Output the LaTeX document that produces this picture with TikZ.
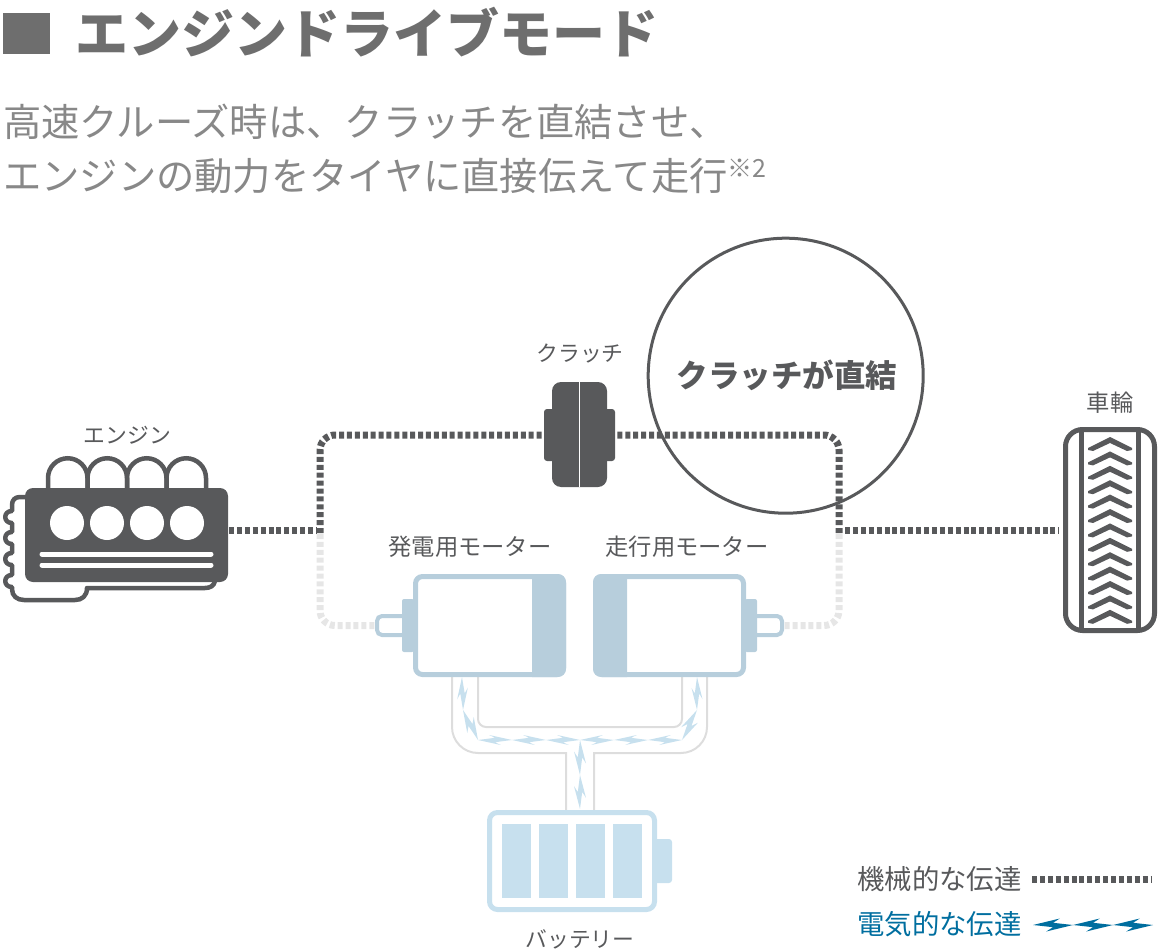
\documentclass[tikz,border=0pt]{standalone}
\usepackage{fontspec}
\usetikzlibrary{calc}
\setmainfont{Noto Sans CJK JP}

\definecolor{darkgray}{HTML}{58595B}
\definecolor{headgray}{HTML}{6E6E6E}
\definecolor{subgray}{HTML}{888888}
\definecolor{lightgray}{HTML}{E6E6E6}
\definecolor{wiregray}{HTML}{DDDDDD}
\definecolor{motorblue}{HTML}{B7CEDC}
\definecolor{batblue}{HTML}{C7E0EE}
\definecolor{legendblue}{HTML}{006E9F}

\tikzset{
	label text/.style={inner sep=0pt, text=darkgray, font=\fontsize{23.3}{23.3}\selectfont},
	kana text/.style={inner sep=0pt, text=darkgray, font=\fontsize{21.8}{21.8}\selectfont},
	legend text/.style={inner sep=0pt, anchor=west, font=\fontsize{27.4}{27.4}\selectfont},
	sub text/.style={inner sep=0pt, anchor=west, text=subgray, font=\fontsize{38.3}{38.3}\selectfont},
	mech dark/.style={draw=darkgray, line width=7pt, dash pattern=on 5pt off 2.9pt},
	mech light/.style={draw=lightgray, line width=7pt, dash pattern=on 5pt off 2.9pt},
	wire/.style={draw=wiregray, line width=2pt},
	engine line/.style={draw=darkgray, line width=4.5pt},
	motor box/.style={draw=motorblue, line width=5pt, rounded corners=7pt, inner sep=0pt, minimum width=148pt, minimum height=98pt},
	bat box/.style={draw=batblue, line width=5pt, rounded corners=8pt, inner sep=0pt, minimum width=165pt, minimum height=97pt},
	shaft box/.style={draw=motorblue, line width=4pt, rounded corners=5pt, fill=white, inner sep=0pt, minimum width=30pt, minimum height=19pt},
	solid box/.style={fill=darkgray, rounded corners=3pt, inner sep=0pt},
}

% thin lightning from #2 to #3, #4 gives the side of the first spike, #5 the spike size
\newcommand{\boltlink}[5]{
	\fill [#1] (#2) -- ($(#2)!.5!(#3)!2.2pt!#4:(#3)$) -- ($(#2)!.33!(#3)!#5!#4:(#3)$) -- (#3)
		-- ($(#2)!.5!(#3)!2.2pt!-#4:(#3)$) -- ($(#2)!.67!(#3)!#5!-#4:(#3)$) -- cycle;
}

\begin{document}
\begin{tikzpicture}[x=1pt, y=-1pt]
	\useasboundingbox (0, 0) rectangle (1160, 952);

	% heading
	\fill [headgray] (3, 13) rectangle (50, 54);
	\node [inner sep=0pt, anchor=west, text=headgray, font=\fontsize{53}{53}\selectfont\bfseries] (title) at (75, 32) {エンジンドライブモード};
	\node [sub text] (subone) at (3, 122) {高速クルーズ時は、クラッチを直結させ、};
	\node [sub text] (subtwo) at (3, 176) {エンジンの動力をタイヤに直接伝えて走行};
	\node [inner sep=0pt, anchor=west, text=subgray, font=\fontsize{25}{25}\selectfont] (note) at (727, 168) {※2};

	% wires
	\coordinate (wireA) at (452, 677);
	\coordinate (wireB) at (707, 677);
	\coordinate (wireC) at (478, 677);
	\coordinate (wireD) at (682, 677);
	\coordinate (wireE) at (566, 811);
	\coordinate (wireF) at (594, 811);
	\draw [wire, rounded corners=26pt] (wireA) -- (452, 753) [sharp corners] -- (566, 753) -- (wireE);
	\draw [wire, rounded corners=26pt] (wireB) -- (707, 753) [sharp corners] -- (594, 753) -- (wireF);
	\draw [wire, rounded corners=8pt] (wireC) -- (478, 727) -- (682, 727) -- (wireD);

	% motors
	\fill [motorblue] (532, 574) [rounded corners=8pt] -- (566, 574) -- (566, 677) [sharp corners] -- (532, 677) -- cycle;
	\fill [motorblue] (627, 574) [rounded corners=8pt] -- (593, 574) -- (593, 677) [sharp corners] -- (627, 677) -- cycle;
	\node [motor box] (genmotor) at (489.5, 625.5) {};
	\node [motor box] (drivemotor) at (669.5, 625.5) {};
	\node [shaft box] (genshaft) at (392, 625.5) {};
	\node [shaft box] (driveshaft) at (767, 625.5) {};
	\fill [motorblue, rounded corners=2pt] (402, 599) rectangle (414, 652);
	\fill [motorblue, rounded corners=2pt] (745, 599) rectangle (757, 652);

	% battery
	\fill [batblue, rounded corners=3pt] (650, 839) rectangle (672, 883);
	\node [bat box, fill=white] (battery) at (572, 861) {};
	\foreach \x in {502, 539, 576, 613} {
		\fill [batblue] (\x, 824) rectangle (\x + 29, 898);
	}

	% electric path
	\coordinate (boltA) at (462, 677);
	\coordinate (boltB) at (463, 710);
	\coordinate (boltC) at (478, 740);
	\coordinate (boltD) at (512, 740);
	\coordinate (boltE) at (546, 740);
	\coordinate (boltF) at (580, 740);
	\coordinate (boltG) at (614, 740);
	\coordinate (boltH) at (648, 740);
	\coordinate (boltI) at (682, 740);
	\coordinate (boltJ) at (697, 710);
	\coordinate (boltK) at (697, 677);
	\coordinate (boltL) at (580, 775);
	\coordinate (boltM) at (580, 809);
	\boltlink{batblue}{boltA}{boltB}{90}{5.5pt}
	\boltlink{batblue}{boltB}{boltC}{90}{6.5pt}
	\boltlink{batblue}{boltC}{boltD}{90}{5pt}
	\boltlink{batblue}{boltD}{boltE}{90}{5pt}
	\boltlink{batblue}{boltE}{boltF}{90}{5pt}
	\boltlink{batblue}{boltF}{boltG}{-90}{5pt}
	\boltlink{batblue}{boltG}{boltH}{-90}{5pt}
	\boltlink{batblue}{boltH}{boltI}{-90}{5pt}
	\boltlink{batblue}{boltJ}{boltI}{90}{6.5pt}
	\boltlink{batblue}{boltK}{boltJ}{-90}{5.5pt}
	\boltlink{batblue}{boltF}{boltL}{-90}{6pt}
	\boltlink{batblue}{boltL}{boltM}{-90}{6pt}

	% engine
	\draw [engine line, line join=round] (26, 497) -- (20, 497) .. controls (15, 497) and (12, 500) .. (12, 505)
		\foreach \y in {517, 538, 559, 581} {
			-- (12, \y - 6) .. controls (3, \y - 6) and (3, \y + 6) .. (12, \y + 6)
		}
		-- (12, 589) .. controls (12, 596) and (17, 600) .. (24, 600) -- (75, 600)
		.. controls (82, 600) and (87, 596) .. (87, 588) -- (205, 588) .. controls (210, 588) and (214, 586) .. (215, 581);
	\foreach \x in {48, 87.5, 127, 166.5} {
		\draw [engine line] (\x, 490) -- (\x, 478) arc [start angle=180, end angle=0, radius=19.75pt] -- (\x + 39.5, 490);
	}
	\node [fill=darkgray, rounded corners=8pt, inner sep=0pt, minimum width=203pt, minimum height=94pt] (engine) at (126.5, 535) {};
	\foreach \x in {67, 107, 147, 187} {
		\fill [white] (\x, 523) circle (17pt);
	}
	\draw [white, line width=5pt, line cap=round] (42, 554) -- (211, 554);
	\draw [white, line width=5pt, line cap=round] (42, 565) -- (211, 565);

	% wheel
	\node [draw=darkgray, line width=5pt, rounded corners=17pt, inner sep=0pt, minimum width=89pt, minimum height=201pt] (wheel) at (1110, 530) {};
	\draw [darkgray, line width=5pt] (1081, 429) -- (1081, 631);
	\draw [darkgray, line width=5pt] (1138, 429) -- (1138, 631);
	\foreach \y in {0, ..., 12} {
		\fill [darkgray] (1110, 437 + \y * 14.4) -- (1132, 448 + \y * 14.4) -- (1132, 450 + \y * 14.4) -- (1127, 451 + \y * 14.4) -- (1110, 443 + \y * 14.4)
			-- (1093, 451 + \y * 14.4) -- (1088, 450 + \y * 14.4) -- (1088, 448 + \y * 14.4) -- cycle;
	}

	% clutch
	\node [solid box, minimum width=71pt, minimum height=52pt] (clutch) at (579.5, 435) {};
	\node [solid box, rounded corners=9pt, minimum width=55pt, minimum height=105pt] (clutchcore) at (579.5, 434.5) {};
	\draw [white, line width=1pt] (clutchcore.north) -- (clutchcore.south);

	% mechanical path
	\coordinate (leftjoin) at (320, 530);
	\coordinate (rightjoin) at (839, 530);
	\coordinate (enginegap) at (229, 530);
	\coordinate (leftstop) at (316, 530);
	\coordinate (rightstart) at (845, 530);
	\coordinate (wheelgap) at (1059, 530);
	\draw [mech light, rounded corners=15pt] (leftjoin) ++(0, 4) -- (leftjoin |- genshaft.west) -- (genshaft.west);
	\draw [mech light, rounded corners=15pt] (rightjoin) ++(0, 4) -- (rightjoin |- driveshaft.east) -- (driveshaft.east);
	\draw [mech dark, rounded corners=15pt] (leftjoin) ++(0, 3) -- (leftjoin |- clutch.west) -- (clutch.west);
	\draw [mech dark, rounded corners=15pt] (rightjoin) ++(0, 3) -- (rightjoin |- clutch.east) -- (clutch.east);
	\draw [mech dark] (enginegap) -- (leftstop);
	\draw [mech dark] (rightstart) -- (wheelgap);

	% callout
	\node [draw=darkgray, line width=3pt, circle, inner sep=0pt, minimum size=275pt] (callout) at (785.7, 375.7) {};
	\node [inner sep=0pt, text=darkgray, font=\fontsize{31.5}{31.5}\selectfont\bfseries] (calloutlabel) at (787, 375) {クラッチが直結};

	% labels
	\node [kana text] (enginelabel) at (127.5, 435) {エンジン};
	\node [kana text] (clutchlabel) at (580, 354) {クラッチ};
	\node [label text] (genlabel) at (470, 547) {発電用モーター};
	\node [label text] (drivelabel) at (687, 547) {走行用モーター};
	\node [label text] (wheellabel) at (1110, 403) {車輪};
	\node [kana text] (batterylabel) at (580, 939) {バッテリー};

	% legend
	\node [legend text, text=darkgray] (mechlegend) at (857, 879) {機械的な伝達};
	\node [legend text, text=legendblue] (eleclegend) at (857, 924) {電気的な伝達};
	\coordinate (mechA) at (1032, 879);
	\coordinate (mechB) at (1152, 879);
	\draw [mech dark] (mechA) -- (mechB);
	\coordinate (elecA) at (1033, 925);
	\coordinate (elecB) at (1073, 925);
	\coordinate (elecC) at (1113, 925);
	\coordinate (elecD) at (1153, 925);
	\boltlink{legendblue}{elecA}{elecB}{-90}{6.5pt}
	\boltlink{legendblue}{elecB}{elecC}{-90}{6.5pt}
	\boltlink{legendblue}{elecC}{elecD}{-90}{6.5pt}
\end{tikzpicture}
\end{document}
